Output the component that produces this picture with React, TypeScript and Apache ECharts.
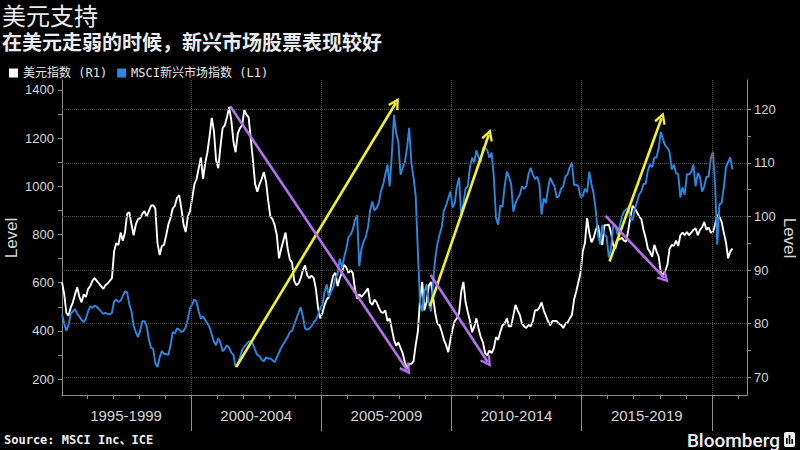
import React, { useEffect, useRef } from 'react';
import * as echarts from 'echarts';

// ---------- data (monthly, Jan 1995 .. Oct 2020) ----------
const START_YEAR = 1995;

// ICE U.S. Dollar Index (right axis, R1)
const usdIndex = [
  87.7, 85.5, 82.0, 81.5, 83.0, 84.0, 85.5, 86.8, 85.0, 84.0, 85.5, 85.0,
  86.5, 87.0, 88.0, 88.5, 88.0, 87.5, 87.0, 86.5, 87.2, 87.5, 88.0, 88.5,
  93.5, 95.0, 94.7, 97.0, 95.5, 97.0, 100.5, 100.8, 98.5, 96.5, 98.5, 99.5,
  99.7, 100.5, 101.0, 100.0, 101.0, 102.0, 102.1, 101.5, 95.0, 92.8, 94.5, 94.7,
  96.5, 98.5, 99.7, 101.5, 102.0, 103.5, 104.0, 101.5, 98.5, 97.1, 100.0, 101.0,
  103.5, 106.0, 107.0, 109.0, 111.0, 107.0, 110.0, 112.0, 115.0, 118.4, 116.0, 110.5,
  109.0, 113.0, 116.5, 117.0, 118.5, 120.4, 118.0, 114.0, 112.0, 115.5, 116.5, 117.0,
  119.9, 119.0, 118.5, 114.5, 110.5, 106.0, 104.6, 106.0, 107.0, 108.3, 106.5, 103.0,
  100.0, 99.5, 98.4, 96.5, 92.2, 94.0, 95.5, 97.0, 94.0, 92.0, 91.4, 88.0,
  87.2, 87.5, 88.5, 90.0, 90.9, 89.0, 88.5, 89.0, 88.5, 86.5, 83.0, 81.0,
  82.0, 83.5, 84.5, 85.0, 87.2, 89.0, 89.5, 87.0, 88.5, 89.5, 91.0, 90.5,
  89.5, 90.0, 89.5, 86.5, 84.7, 85.5, 85.0, 85.5, 86.0, 86.6, 84.0, 83.5,
  84.5, 84.0, 83.0, 82.2, 82.0, 82.5, 80.5, 81.0, 79.0, 77.0, 75.9, 76.5,
  75.5, 74.5, 72.8, 71.6, 72.5, 72.5, 73.0, 76.0, 78.5, 84.5, 87.8, 82.5,
  84.0, 87.0, 87.8, 85.0, 82.0, 80.0, 79.7, 78.5, 77.0, 76.0, 74.7, 77.0,
  79.0, 80.5, 81.0, 82.0, 86.0, 87.8, 84.0, 82.2, 80.5, 78.4, 79.5, 81.0,
  79.0, 77.5, 76.5, 74.5, 74.1, 75.0, 74.5, 75.4, 77.5, 77.0, 78.5, 79.7,
  80.0, 81.0, 79.5, 79.5, 81.5, 83.5, 82.5, 81.6, 80.0, 79.5, 79.2, 79.8,
  79.5, 80.5, 82.5, 82.5, 83.0, 84.0, 82.5, 81.5, 80.5, 79.7, 80.5, 80.5,
  80.5, 80.0, 79.8, 79.2, 80.0, 80.2, 81.0, 81.6, 84.5, 86.0, 87.8, 89.5,
  93.5, 95.0, 99.7, 97.0, 95.2, 96.0, 97.5, 98.4, 96.0, 94.7, 98.4, 98.4,
  98.5, 97.0, 94.7, 94.0, 95.5, 95.8, 96.0, 95.5, 95.3, 97.5, 100.0, 102.0,
  101.5, 100.8, 100.0, 99.5, 97.5, 96.0, 94.0, 93.4, 92.5, 94.7, 93.5, 92.5,
  89.5, 89.1, 89.8, 91.0, 94.0, 94.7, 94.5, 95.5, 94.5, 96.5, 97.0, 96.5,
  97.1, 96.5, 97.0, 97.5, 97.8, 96.5, 97.5, 98.0, 99.0, 97.5, 98.0, 97.0,
  97.1, 98.5, 100.3, 100.0, 99.0, 97.0, 95.2, 92.2, 93.5, 94.0,
];

// MSCI Emerging Markets Index (left axis, L1)
const msciEM = [
  469, 430, 400, 425, 470, 481, 490, 470, 460, 445, 436, 450,
  480, 502, 495, 505, 500, 490, 481, 470, 475, 470, 469, 475,
  523, 530, 520, 525, 545, 564, 560, 510, 481, 420, 395, 374,
  400, 440, 440, 420, 365, 330, 325, 265, 250, 290, 316, 305,
  303, 300, 340, 395, 390, 410, 405, 395, 400, 415, 450, 495,
  510, 531, 520, 480, 450, 460, 445, 430, 415, 385, 355, 340,
  370, 350, 315, 325, 340, 330, 310, 300, 250, 265, 290, 320,
  335, 345, 355, 357, 345, 320, 300, 295, 280, 274, 290, 285,
  285, 278, 270, 290, 310, 330, 345, 360, 375, 395, 400, 425,
  450, 475, 498, 460, 410, 405, 410, 420, 435, 445, 465, 495,
  510, 560, 593, 540, 564, 580, 620, 635, 700, 660, 705, 740,
  788, 800, 820, 860, 880, 668, 740, 770, 790, 830, 900, 937,
  900, 910, 930, 980, 1007, 1050, 1090, 1000, 1131, 1297, 1220, 1185,
  1048, 1077, 1100, 1160, 1243, 1100, 1036, 960, 730, 520, 481, 560,
  593, 520, 481, 600, 700, 760, 800, 830, 900, 920, 950, 978,
  912, 930, 1000, 1036, 871, 930, 990, 1000, 1080, 1119, 1100, 1150,
  1120, 1100, 1160, 1160, 1150, 1119, 1140, 1040, 870, 841, 920, 915,
  1000, 1061, 1040, 1010, 895, 930, 950, 966, 1000, 990, 1000, 1050,
  1077, 1050, 1030, 1040, 1010, 883, 950, 930, 990, 1036, 1015, 1000,
  953, 960, 990, 1000, 1040, 1050, 1080, 1098, 1005, 1007, 1000, 955,
  960, 990, 975, 1061, 1010, 970, 900, 800, 759, 840, 800, 790,
  705, 740, 835, 840, 800, 835, 871, 895, 905, 910, 865, 860,
  905, 935, 966, 980, 1010, 1010, 1065, 1090, 1080, 1120, 1120, 1160,
  1226, 1195, 1170, 1160, 1143, 1070, 1090, 1055, 1050, 953, 995, 965,
  1050, 1050, 1060, 1090, 1000, 1055, 1040, 978, 1000, 1040, 1040, 1115,
  1143, 1005, 758, 925, 930, 995, 1080, 1100, 1120, 1070,
];

// axes
const X_MIN = 1995.04;
const X_MAX = 2021.35;
const yearTicks = [1996, 1997, 1998, 1999, 2000, 2001, 2002, 2003, 2004, 2005, 2006, 2007, 2008, 2009, 2010, 2011, 2012, 2013, 2014, 2015, 2016, 2017, 2018, 2019, 2020, 2021];
const separatorYears = [2000, 2005, 2010, 2015, 2020];
const periodCenters = [1997.5, 2002.5, 2007.5, 2012.5, 2017.5];
const periodLabels = ['1995-1999', '2000-2004', '2005-2009', '2010-2014', '2015-2019'];

const LEFT_MIN = 133.6;
const LEFT_MAX = 1441.5;
const leftLabelValues = [200, 400, 600, 800, 1000, 1200, 1400];
const leftTickValues = [200, 300, 400, 500, 600, 700, 800, 900, 1000, 1100, 1200, 1300, 1400];

const RIGHT_MIN = 66.7;
const RIGHT_MAX = 125.47;
const rightLabelValues = [70, 80, 90, 100, 110, 120];
const rightTickValues = [70, 75, 80, 85, 90, 95, 100, 105, 110, 115, 120];

// annotation arrows [x1, y1, x2, y2]
const yellowArrows = [
  [2001.73, 250, 2007.86, 1346],
  [2009.17, 502, 2011.43, 1214],
  [2016.07, 688, 2018.07, 1284],
];
const purpleArrows = [
  [2001.5, 120.6, 2008.29, 71.4],
  [2009.2, 89.1, 2011.39, 72.85],
  [2015.92, 100.1, 2018.18, 88.5],
];

const USD_NAME = '美元指数 (R1)';
const MSCI_NAME = 'MSCI新兴市场指数 (L1)';
const BLUE = '#2b88e0';
const WHITE = '#ffffff';
const YELLOW = '#f2f21e';
const PURPLE = '#b56ef0';
const AXIS = '#8c8c8c';
const GRID = '#4d4d4d';
const LABEL = '#d6d6d6';
const CHEVRON = 'path://M5,0 L10,8.6 L8.4,9.6 L5,3.8 L1.6,9.6 L0,8.6 Z';

const toSeries = (arr: number[]) => arr.map((v, i) => [START_YEAR + (i + 0.5) / 12, v]);

export default function App() {
  const ref = useRef<HTMLDivElement>(null);

  useEffect(() => {
    document.body.style.margin = '0';
    document.body.style.background = '#000';
    if (!ref.current) return;
    const chart = echarts.init(ref.current, undefined, { renderer: 'svg' });

    const arrowLine = (arrs: number[][], color: string) => ({
      silent: true,
      symbol: ['none', CHEVRON],
      symbolSize: 12,
      label: { show: false },
      emphasis: { disabled: true },
      lineStyle: { color, width: 2.6, type: 'solid' },
      data: arrs.map(([x1, y1, x2, y2]) => [{ coord: [x1, y1] }, { coord: [x2, y2] }]),
    });

    const plainNumber = (v: number) => String(v);

    const option: any = {
      animation: false,
      backgroundColor: '#000',
      grid: { left: 62, right: 53, top: 80, bottom: 55, containLabel: false, outerBoundsMode: 'none' },
      legend: {
        show: true,
        left: 4,
        top: 62,
        icon: 'rect',
        itemWidth: 9,
        itemHeight: 9,
        itemGap: 10,
        selectedMode: false,
        data: [USD_NAME, MSCI_NAME],
        textStyle: { color: '#e6e6e6', fontSize: 12, fontFamily: '"DejaVu Sans Mono", "Noto Sans CJK SC", monospace' },
      },
      xAxis: [
        {
          type: 'value',
          min: X_MIN,
          max: X_MAX,
          position: 'bottom',
          axisLine: { show: true, onZero: false, lineStyle: { color: AXIS, width: 1 } },
          axisTick: { show: true, customValues: yearTicks, length: 4, lineStyle: { color: AXIS } },
          axisLabel: {
            show: true,
            customValues: periodCenters,
            formatter: (v: number) => {
              const i = periodCenters.findIndex((c) => Math.abs(c - v) < 1e-6);
              return i >= 0 ? periodLabels[i] : '';
            },
            color: LABEL,
            fontSize: 15,
            fontFamily: '"Liberation Sans", sans-serif',
            margin: 13,
          },
          splitLine: { show: false },
        },
        {
          type: 'value',
          min: X_MIN,
          max: X_MAX,
          position: 'bottom',
          axisLine: { show: false, onZero: false },
          axisTick: { show: true, customValues: separatorYears, length: 36, lineStyle: { color: AXIS } },
          axisLabel: { show: false },
          splitLine: { show: false },
        },
      ],
      yAxis: [
        {
          type: 'value',
          position: 'left',
          min: LEFT_MIN,
          max: LEFT_MAX,
          axisLine: { show: true, lineStyle: { color: AXIS } },
          axisTick: { show: true, customValues: leftTickValues, length: 4, lineStyle: { color: AXIS } },
          axisLabel: {
            show: true,
            customValues: leftLabelValues,
            formatter: plainNumber,
            color: LABEL,
            fontSize: 13,
            fontFamily: '"Liberation Sans", sans-serif',
            margin: 8,
          },
          splitLine: { show: false },
        },
        {
          type: 'value',
          position: 'right',
          min: RIGHT_MIN,
          max: RIGHT_MAX,
          axisLine: { show: true, lineStyle: { color: AXIS } },
          axisTick: { show: true, customValues: rightTickValues, length: 4, lineStyle: { color: AXIS } },
          axisLabel: {
            show: true,
            customValues: rightLabelValues,
            formatter: plainNumber,
            color: LABEL,
            fontSize: 13,
            fontFamily: '"Liberation Sans", sans-serif',
            margin: 7,
          },
          splitLine: { show: false },
        },
      ],
      series: [
        {
          type: 'line',
          xAxisIndex: 0,
          yAxisIndex: 1,
          data: [],
          z: 1,
          silent: true,
          markLine: {
            silent: true,
            symbol: ['none', 'none'],
            label: { show: false },
            emphasis: { disabled: true },
            lineStyle: { color: GRID, type: 'dotted', width: 1 },
            data: [
              ...rightLabelValues.map((v) => ({ yAxis: v })),
              ...separatorYears.map((v) => ({ xAxis: v })),
            ],
          },
        },
        {
          type: 'line',
          name: USD_NAME,
          xAxisIndex: 0,
          yAxisIndex: 1,
          data: toSeries(usdIndex),
          symbol: 'none',
          showSymbol: false,
          lineStyle: { color: WHITE, width: 1.9 },
          itemStyle: { color: WHITE },
          z: 2,
          silent: true,
        },
        {
          type: 'line',
          name: MSCI_NAME,
          xAxisIndex: 0,
          yAxisIndex: 0,
          data: toSeries(msciEM),
          symbol: 'none',
          showSymbol: false,
          lineStyle: { color: BLUE, width: 1.9 },
          itemStyle: { color: BLUE },
          z: 3,
          silent: true,
        },
        {
          type: 'line',
          xAxisIndex: 0,
          yAxisIndex: 0,
          data: [],
          z: 4,
          silent: true,
          markLine: arrowLine(yellowArrows, YELLOW),
        },
        {
          type: 'line',
          xAxisIndex: 0,
          yAxisIndex: 1,
          data: [],
          z: 4,
          silent: true,
          markLine: arrowLine(purpleArrows, PURPLE),
        },
      ],
      graphic: [
        {
          type: 'text',
          x: 2,
          y: 16,
          style: { text: '美元支持', fill: '#ececec', font: '24px "Liberation Sans", "Noto Sans CJK SC"', textVerticalAlign: 'middle' },
        },
        {
          type: 'text',
          x: 2,
          y: 43,
          style: { text: '在美元走弱的时候，新兴市场股票表现较好', fill: '#ececec', font: 'bold 20px "Liberation Sans", "Noto Sans CJK SC"', textVerticalAlign: 'middle' },
        },
        {
          type: 'text',
          x: 11,
          y: 238,
          rotation: Math.PI / 2,
          style: { text: 'Level', fill: LABEL, font: '17px "Liberation Sans"', textAlign: 'center', textVerticalAlign: 'middle' },
        },
        {
          type: 'text',
          x: 789,
          y: 238,
          rotation: -Math.PI / 2,
          style: { text: 'Level', fill: LABEL, font: '17px "Liberation Sans"', textAlign: 'center', textVerticalAlign: 'middle' },
        },
        {
          type: 'text',
          x: 4,
          y: 440,
          style: { text: 'Source: MSCI Inc、ICE', fill: '#f0f0f0', font: 'bold 12px "DejaVu Sans Mono", "Noto Sans CJK SC"', textVerticalAlign: 'middle' },
        },
        {
          type: 'text',
          x: 780,
          y: 440,
          style: { text: 'Bloomberg', fill: '#f0f0f0', font: '500 19px Roboto', textAlign: 'right', textVerticalAlign: 'middle' },
        },
        {
          type: 'group',
          x: 784,
          y: 432,
          children: [
            { type: 'rect', shape: { x: 0, y: 0, width: 11, height: 15, r: 2 }, style: { fill: '#f0f0f0' } },
            { type: 'rect', shape: { x: 2, y: 6, width: 1.6, height: 6 }, style: { fill: '#000' } },
            { type: 'rect', shape: { x: 4.7, y: 3, width: 1.6, height: 9 }, style: { fill: '#000' } },
            { type: 'rect', shape: { x: 7.4, y: 7, width: 1.6, height: 5 }, style: { fill: '#000' } },
          ],
        },
      ],
    };

    chart.setOption(option);
    return () => chart.dispose();
  }, []);

  return (
    <div
      ref={ref}
      style={{ position: 'fixed', left: 0, top: 0, width: 800, height: 450, background: '#000' }}
    />
  );
}
